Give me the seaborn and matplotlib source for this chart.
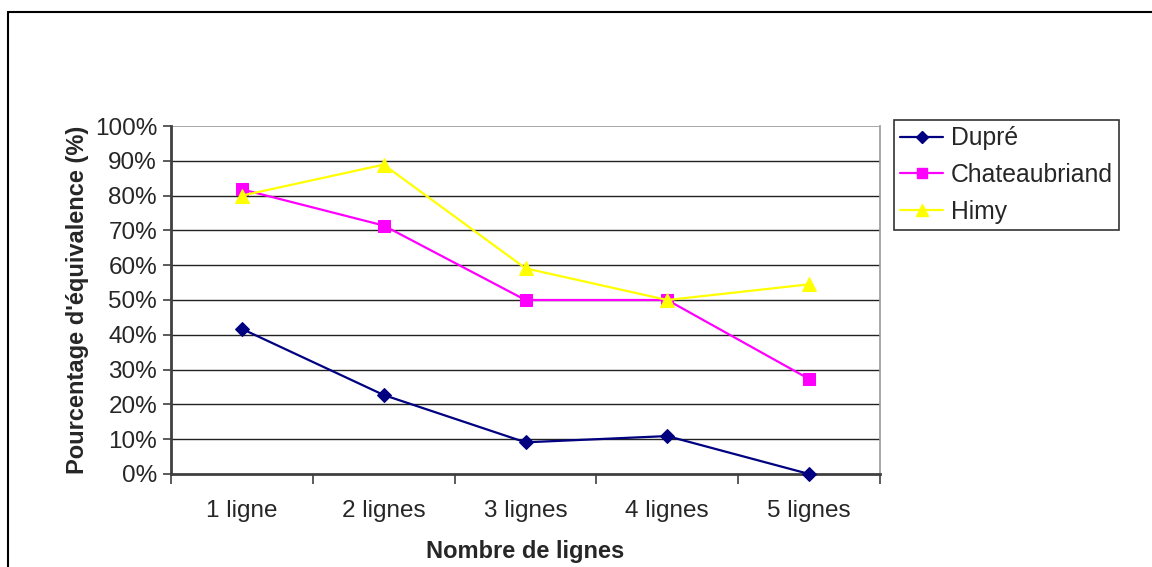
import matplotlib
matplotlib.use("Agg")
import matplotlib.pyplot as plt
from matplotlib.lines import Line2D
from matplotlib.ticker import FixedLocator, PercentFormatter
import seaborn as sns
import pandas as pd

categories = ["1 ligne", "2 lignes", "3 lignes", "4 lignes", "5 lignes"]
dupre = [41.7, 22.7, 9.1, 10.9, 0.0]
chateaubriand = [81.8, 71.4, 50.0, 50.0, 27.3]
himy = [80.0, 88.9, 59.1, 50.0, 54.5]
series_names = ["Dupré", "Chateaubriand", "Himy"]

df = pd.DataFrame({
    "Nombre de lignes": categories * 3,
    "valeur": dupre + chateaubriand + himy,
    "Auteur": [s for s in series_names for _ in categories],
})

sns.set_theme(style="white")
plt.rcParams["font.family"] = ["Liberation Sans", "DejaVu Sans"]

fig = plt.figure(figsize=(11.52, 5.67), dpi=100)
ax = fig.add_axes([171 / 1152, 93 / 567, 709 / 1152, 348 / 567])

palette = {"Dupré": "#000080", "Chateaubriand": "#FF00FF", "Himy": "#FFFF00"}
markers = {"Dupré": "D", "Chateaubriand": "s", "Himy": "^"}
sizes = {"Dupré": 7.5, "Chateaubriand": 8, "Himy": 9.5}

x_pos = {c: i for i, c in enumerate(categories)}
df["x"] = df["Nombre de lignes"].map(x_pos)

# horizontal gridlines every 10 %
for v in range(10, 100, 10):
    ax.axhline(v, color="#222222", lw=1.0, zorder=0)
ax.axhline(100, color="#999999", lw=1.2, zorder=0)

for name in series_names:
    sub = df[df["Auteur"] == name]
    sns.lineplot(data=sub, x="x", y="valeur", ax=ax, color=palette[name],
                 marker=markers[name], markersize=sizes[name],
                 markeredgecolor=palette[name], linewidth=1.6,
                 label=name, legend=False, zorder=3, clip_on=False)

ax.set_xlim(-0.5, 4.5)
ax.set_ylim(0, 100)

ax.set_xticks(range(len(categories)))
ax.set_xticklabels(categories, fontsize=17.5)
ax.xaxis.set_minor_locator(FixedLocator([i - 0.5 for i in range(len(categories) + 1)]))
ax.tick_params(axis="x", which="major", length=0, pad=19)
ax.tick_params(axis="x", which="minor", length=7, width=1.2, color="#404040",
               direction="out", bottom=True)

ax.set_yticks(range(0, 101, 10))
ax.yaxis.set_major_formatter(PercentFormatter(decimals=0))
ax.tick_params(axis="y", which="major", length=6, width=1.2, color="#404040",
               direction="out", left=True, labelsize=17.5, pad=4)

ax.set_xlabel("Nombre de lignes", fontsize=17, fontweight="bold", labelpad=13)
ax.set_ylabel("Pourcentage d'équivalence (%)", fontsize=17, fontweight="bold",
              labelpad=4)

for side in ("left", "bottom"):
    ax.spines[side].set_color("#404040")
    ax.spines[side].set_linewidth(2)
ax.spines["right"].set_color("#999999")
ax.spines["right"].set_linewidth(1.2)
ax.spines["top"].set_visible(False)

handles = [Line2D([0], [0], color=palette[n], marker=markers[n],
                  markersize=sizes[n] * 0.85, markeredgecolor=palette[n], lw=1.6)
           for n in series_names]
leg = fig.legend(handles, series_names, loc="upper left",
                 bbox_to_anchor=(894 / 1152, 1 - 120 / 567),
                 fontsize=17.8, frameon=True, fancybox=False, edgecolor="black",
                 handlelength=1.75, handletextpad=0.3, labelspacing=0.52,
                 borderpad=0.25, borderaxespad=0)
leg.get_frame().set_linewidth(1.2)

# outer chart frame
fig.add_artist(Line2D([8 / 1152, 1.0], [1 - 12 / 567, 1 - 12 / 567],
                      transform=fig.transFigure, color="black", lw=1.5))
fig.add_artist(Line2D([8 / 1152, 8 / 1152], [0, 1 - 12 / 567],
                      transform=fig.transFigure, color="black", lw=1.5))

fig.savefig("out.png", dpi=100, facecolor="white")
